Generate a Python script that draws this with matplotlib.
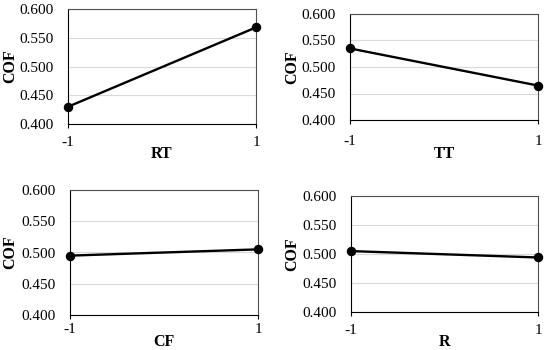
import matplotlib.pyplot as plt

plt.rcParams['font.family'] = ['Liberation Serif', 'DejaVu Serif']

levels = [-1, 1]
factors = ['RT', 'TT', 'CF', 'R']
cof_rt = [0.430, 0.568]
cof_tt = [0.535, 0.465]
cof_cf = [0.495, 0.505]
cof_r = [0.505, 0.494]
series = [cof_rt, cof_tt, cof_cf, cof_r]
yticks = [0.400, 0.450, 0.500, 0.550, 0.600]

W, H = 550, 350
fig = plt.figure(figsize=(5.5, 3.5), dpi=100)

# plot-area boxes in pixels: left, top, right, bottom
boxes = [(68, 9, 256, 124), (350, 14, 538, 120),
         (70, 190, 258, 315), (351, 196, 538, 312)]
# x tick label pad (pt), xlabel centre y (px), ylabel centre x (px)
xpads = [6, 8, 3, 6]
xlab_y = [154, 154, 342, 342]
ylab_x = [10, 292, 10, 292]

for i, (box, name, vals) in enumerate(zip(boxes, factors, series)):
    l, t, r, b = box
    ax = fig.add_axes([l / W, 1 - b / H, (r - l) / W, (b - t) / H])
    ax.plot(levels, vals, color='black', lw=1.7, marker='o', ms=5.8,
            clip_on=False, zorder=3)
    ax.set_xlim(-1, 1)
    ax.set_ylim(0.4, 0.6)
    ax.set_yticks(yticks)
    ax.set_yticklabels(['%.3f' % v for v in yticks])
    ax.set_xticks(levels)
    ax.set_xticklabels(['-1', '1'])
    ax.yaxis.grid(True, color='#d9d9d9', lw=0.8)
    ax.set_axisbelow(True)
    ax.tick_params(axis='y', length=0, labelsize=11, pad=10)
    ax.tick_params(axis='x', length=3, labelsize=11, direction='out', pad=xpads[i])
    for s in ax.spines.values():
        s.set_color('#505050')
        s.set_linewidth(0.8)
    ax.spines['left'].set_color('black')
    ax.spines['bottom'].set_color('black')
    ax.set_xlabel(name, fontsize=11.5, fontweight='bold')
    ax.set_ylabel('COF', fontsize=11.5, fontweight='bold')
    ax.xaxis.set_label_coords(0.5, (b - xlab_y[i]) / (b - t))
    ax.xaxis.label.set_va('center')
    ax.yaxis.set_label_coords((ylab_x[i] - l) / (r - l), 0.5)
    ax.yaxis.label.set_va('center')

fig.savefig('out.png', dpi=100)
